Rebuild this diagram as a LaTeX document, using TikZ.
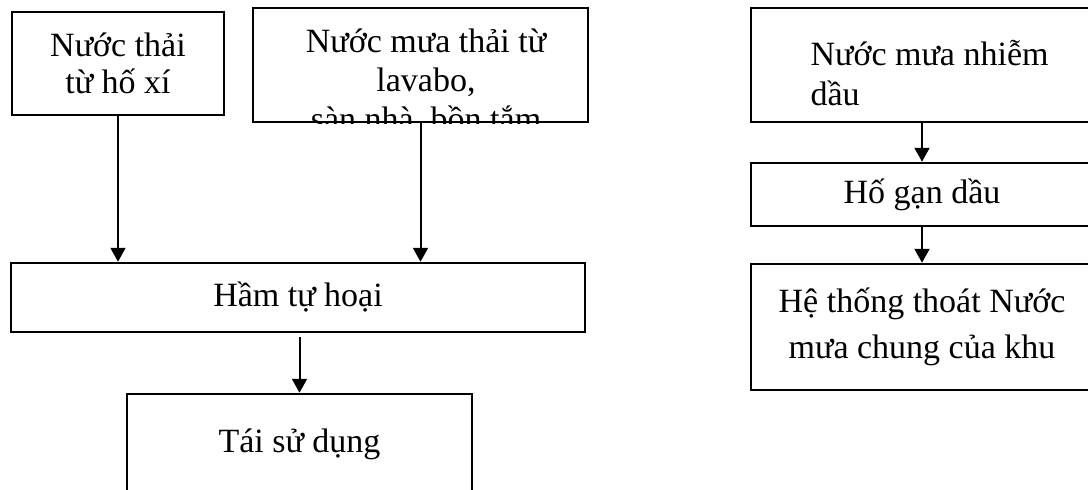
\documentclass[tikz,border=0pt]{standalone}
\usepackage{fontspec}
\setmainfont{Liberation Serif}
\usetikzlibrary{arrows.meta}
\newcommand{\linecolor}{black}
\newcommand{\rim}{2.5pt}
\newcommand{\shaft}{2pt}
\newcommand{\txtsize}{\fontsize{34}{37}\selectfont}

\begin{document}
\begin{tikzpicture}[x=1pt,y=-1pt,
  box/.style={draw=\linecolor, line width=\rim, inner sep=0pt, align=center},
  flow/.style={draw=\linecolor, line width=\shaft, -{Triangle[length=14pt,width=15pt]}},
  font=\txtsize]
\useasboundingbox (0,0) rectangle (1088,490);
\clip (0,0) rectangle (1088,490);
%left
\node[box, minimum width=212, minimum height=103] (wc) at (118,63.5) {Nước thải\\từ hố xí};
\node[box, minimum width=335, minimum height=114] (rain) at (420.5,65) {};
\begin{scope}
\clip (rain.south west) rectangle (rain.north east);
\node (raintext) at (426,130) [anchor=base, align=center, font=\fontsize{34}{39}\selectfont] {Nước mưa thải từ\\lavabo,\\sàn nhà, bồn tắm};
\end{scope}
\node[box, minimum width=574, minimum height=69] (ham) at (298,297.5) {Hầm tự hoại};
\node[box, minimum width=345, minimum height=100] (reuse) at (299.5,444) {Tái sử dụng};
\draw[flow] (wc.south) -- (wc.south |- ham.north);
\draw[flow] (rain.south) -- (rain.south |- ham.north);
\draw[flow, shorten <=4pt] (reuse.north |- ham.south) -- (reuse.north);
%right
\node[box, minimum width=342, minimum height=114] (oil) at (922,65) {};
\node (oiltext) at (807,105) [anchor=base west, align=left, font=\fontsize{34}{40}\selectfont] {Nước mưa nhiễm\\dầu};
\node[box, minimum width=342, minimum height=63] (trap) at (922,194.5) {Hố gạn dầu};
\node[box, minimum width=342, minimum height=126, font=\fontsize{34}{46}\selectfont] (drain) at (922,327) {Hệ thống thoát Nước\\ mưa chung của khu};
\draw[flow] (oil) -- (trap);
\draw[flow] (trap) -- (drain);
\end{tikzpicture}
\end{document}
